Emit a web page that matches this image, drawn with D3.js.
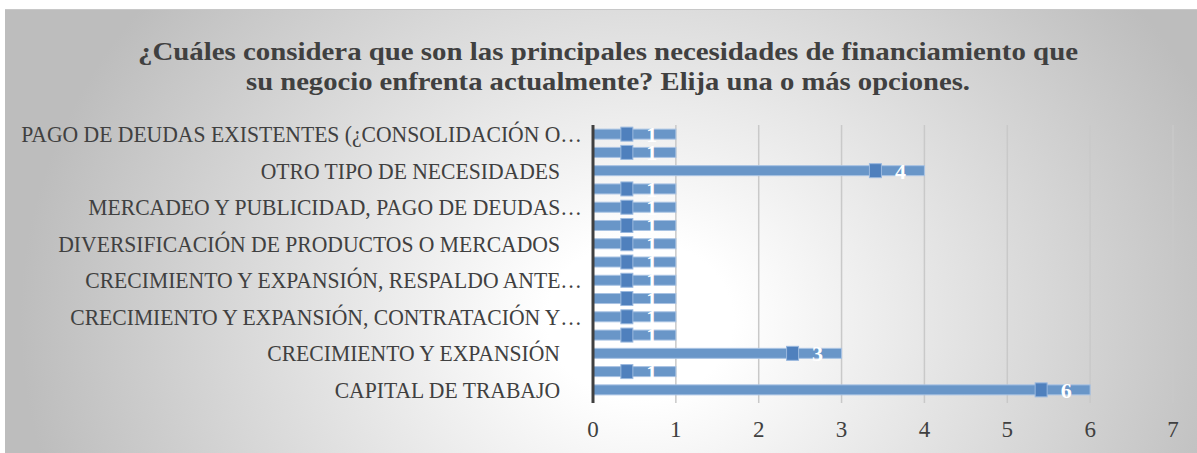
<!DOCTYPE html>
<html>
<head>
<meta charset="utf-8">
<script src="https://cdn.jsdelivr.net/npm/d3@7"></script>
<style>
  html, body { margin: 0; padding: 0; background: #fff; }
  text { font-family: "Liberation Serif", "DejaVu Serif", serif; }
</style>
</head>
<body>
<script>
// Categories, top to bottom (only every other one gets a visible label, as in the original)
const categories = [
  "PAGO DE DEUDAS EXISTENTES (¿CONSOLIDACIÓN O…",
  "PAGO DE DEUDAS EXISTENTES",
  "OTRO TIPO DE NECESIDADES ",
  "MERCADEO Y PUBLICIDAD",
  "MERCADEO Y PUBLICIDAD, PAGO DE DEUDAS…",
  "INVERSIÓN EN TECNOLOGÍA",
  "DIVERSIFICACIÓN DE PRODUCTOS O MERCADOS ",
  "CRECIMIENTO Y EXPANSIÓN, TECNOLOGÍA",
  "CRECIMIENTO Y EXPANSIÓN, RESPALDO ANTE…",
  "CRECIMIENTO Y EXPANSIÓN, MERCADEO",
  "CRECIMIENTO Y EXPANSIÓN, CONTRATACIÓN Y…",
  "CRECIMIENTO Y EXPANSIÓN, CAPITAL DE TRABAJO",
  "CRECIMIENTO Y EXPANSIÓN ",
  "CAPITAL DE TRABAJO, PAGO DE DEUDAS",
  "CAPITAL DE TRABAJO "
];
const values = [1, 1, 4, 1, 1, 1, 1, 1, 1, 1, 1, 1, 3, 1, 6];
const xTicks = [0, 1, 2, 3, 4, 5, 6, 7];
const titleLines = [
  "¿Cuáles considera que son las principales necesidades de financiamiento que",
  "su negocio enfrenta actualmente? Elija una o más opciones."
];

const width = 1197, height = 453;
const svg = d3.select("body").append("svg")
  .attr("width", width)
  .attr("height", height);

// Background gradient (grey edges, light centre)
const defs = svg.append("defs");
const grad = defs.append("radialGradient")
  .attr("id", "bg")
  .attr("gradientUnits", "userSpaceOnUse")
  .attr("cx", 640).attr("cy", 320).attr("r", 620)
  .attr("gradientTransform", "translate(640,320) scale(1,0.85) translate(-640,-320)");
grad.append("stop").attr("offset", "0%").attr("stop-color", "#ffffff");
grad.append("stop").attr("offset", "15%").attr("stop-color", "#ffffff");
grad.append("stop").attr("offset", "100%").attr("stop-color", "#bdbdbd");

svg.append("rect")
  .attr("x", 5).attr("y", 9)
  .attr("width", width - 5).attr("height", height - 9)
  .attr("fill", "url(#bg)");
svg.append("line")
  .attr("x1", 5).attr("x2", width).attr("y1", 9.5).attr("y2", 9.5)
  .attr("stroke", "#c8c8c8");

// Title - condensed to match the original's width
const titleLen = [940, 724];
svg.append("g")
  .selectAll("text")
  .data(titleLines)
  .enter().append("text")
  .attr("x", 608)
  .attr("y", (d, i) => 60 + i * 30)
  .attr("text-anchor", "middle")
  .attr("font-size", 25).attr("font-weight", "bold")
  .attr("fill", "#404040")
  .attr("textLength", (d, i) => titleLen[i])
  .attr("lengthAdjust", "spacingAndGlyphs")
  .text(d => d);

// Scales
const x = d3.scaleLinear().domain([0, 7]).range([593, 1173]);
const y = d3.scaleBand().domain(categories).range([125, 399]);
const barH = 10;

// Gridlines
svg.append("g")
  .selectAll("line")
  .data(xTicks.slice(1))
  .enter().append("line")
  .attr("x1", d => x(d)).attr("x2", d => x(d))
  .attr("y1", 125).attr("y2", 403)
  .attr("stroke", "#c9c9c9").attr("stroke-width", 1.5);

// Bars
const rows = svg.append("g")
  .selectAll("g")
  .data(categories.map((c, i) => ({ c: c, v: values[i], i: i })))
  .enter().append("g")
  .attr("transform", d => "translate(0," + (y(d.c) + y.bandwidth() / 2) + ")");

rows.append("rect")
  .attr("x", x(0))
  .attr("y", -barH / 2)
  .attr("width", d => x(d.v) - x(0))
  .attr("height", barH)
  .attr("fill", "#6996c8")
  .attr("stroke", "#a9c3e3").attr("stroke-width", 1);

// Data labels with legend key (white label mostly lost against the bar, as in original)
rows.append("rect")
  .attr("x", d => x(d.v) - 55)
  .attr("y", -7)
  .attr("width", 12).attr("height", 14)
  .attr("fill", "#4f80bd")
  .attr("stroke", "#9ab8de").attr("stroke-width", 1);

rows.append("text")
  .attr("x", d => x(d.v) - 24)
  .attr("y", 8)
  .attr("text-anchor", "middle")
  .attr("font-size", 22).attr("font-weight", "bold")
  .attr("fill", "#ffffff")
  .text(d => d.v);

// Category labels (every other one); names with a trailing space sit further left
rows.filter(d => d.i % 2 === 0)
  .append("text")
  .attr("x", d => d.c.endsWith(" ") ? 560 : 582)
  .attr("y", 8)
  .attr("text-anchor", "end")
  .attr("font-size", 23)
  .attr("fill", "#404040")
  .text(d => d.c.trim())
  .each(function() {
    const w = this.getComputedTextLength();
    d3.select(this)
      .attr("textLength", w * 0.94)
      .attr("lengthAdjust", "spacingAndGlyphs");
  });

// Axis line
svg.append("line")
  .attr("x1", x(0)).attr("x2", x(0))
  .attr("y1", 125).attr("y2", 403)
  .attr("stroke", "#404040").attr("stroke-width", 3);

// X tick labels
svg.append("g")
  .selectAll("text")
  .data(xTicks)
  .enter().append("text")
  .attr("x", d => x(d))
  .attr("y", 437)
  .attr("text-anchor", "middle")
  .attr("font-size", 23)
  .attr("fill", "#404040")
  .text(d => d);
</script>
</body>
</html>
